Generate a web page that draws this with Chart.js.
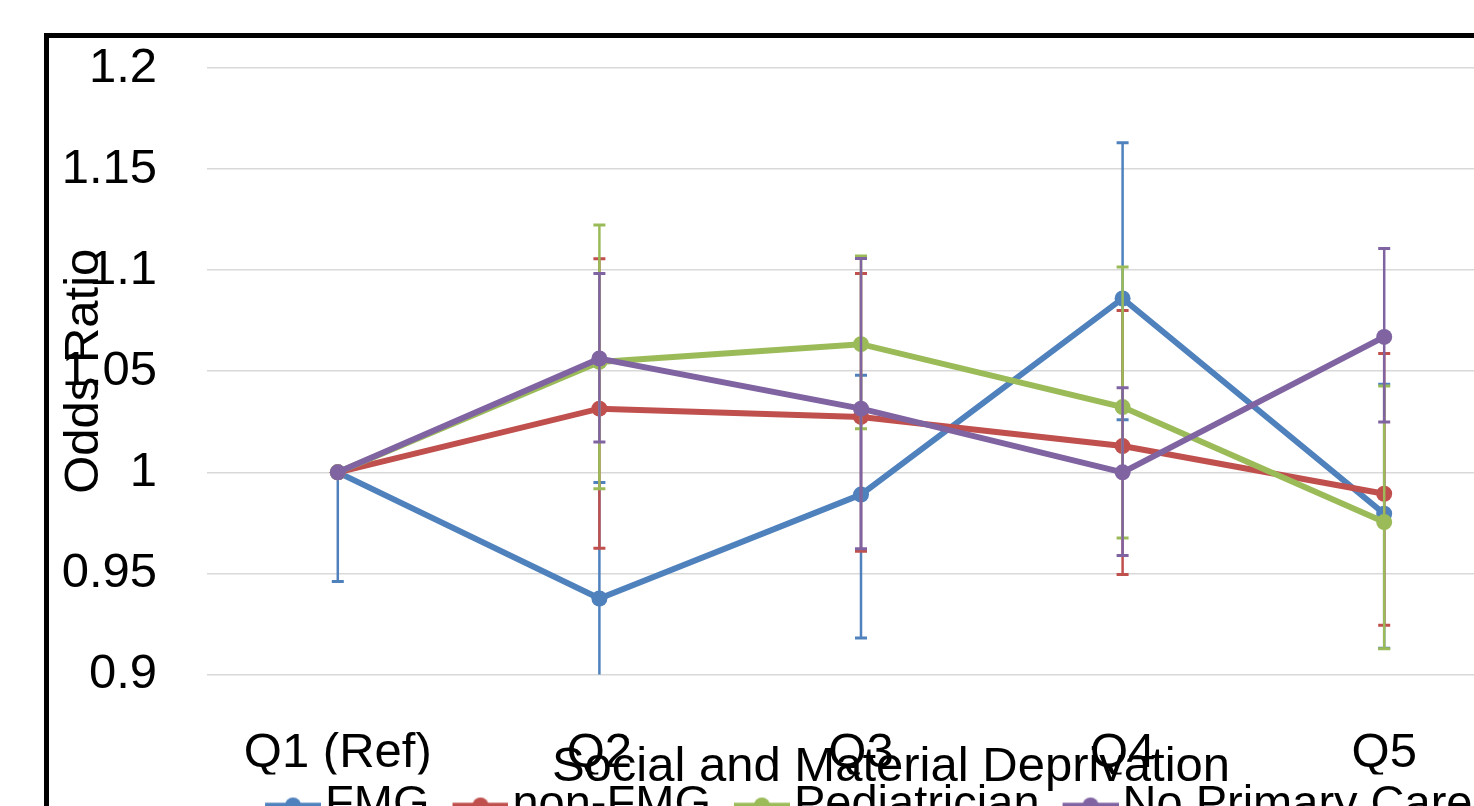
<!DOCTYPE html>
<html>
<head>
<meta charset="utf-8">
<script src="https://cdn.jsdelivr.net/npm/chart.js@4"></script>
<style>
  html, body { margin: 0; padding: 0; background: #fff; width: 1474px; height: 806px; overflow: hidden; }
  #frame { position: absolute; left: 44px; top: 33px; width: 1700px; height: 1000px; border: 5px solid #000; }
  #chart { position: absolute; left: 0; top: 0; }
</style>
</head>
<body>
<div id="frame"></div>
<canvas id="chart" width="1560" height="839"></canvas>
<script>
// categories and series
const categories = ['Q1 (Ref)', 'Q2', 'Q3', 'Q4', 'Q5'];
const seriesNames = ['FMG', 'non-FMG', 'Pediatrician', 'No Primary Care'];
const seriesColors = ['#4F81BD', '#C0504D', '#9BBB59', '#8064A2'];

const fmg      = [1.0, 0.9376, 0.989, 1.086, 0.9795];
const fmgLow   = [0.946, 0.883, 0.918, 1.026, 0.913];
const fmgHigh  = [1.0, 0.995, 1.048, 1.163, 1.0436];

const nonFmg     = [1.0, 1.0315, 1.0274, 1.013, 0.9894];
const nonFmgLow  = [1.0, 0.9625, 0.961, 0.9495, 0.9243];
const nonFmgHigh = [1.0, 1.1056, 1.0983, 1.080, 1.0588];

const pediatrician     = [1.0, 1.0546, 1.0634, 1.0323, 0.9754];
const pediatricianLow  = [1.0, 0.9919, 1.0215, 0.9675, 0.9127];
const pediatricianHigh = [1.0, 1.1223, 1.107, 1.1016, 1.0427];

const noPrimary     = [1.0, 1.0563, 1.0315, 1.0, 1.067];
const noPrimaryLow  = [1.0, 1.015, 0.9622, 0.9589, 1.0249];
const noPrimaryHigh = [1.0, 1.0983, 1.1058, 1.0419, 1.1107];

const yTicks = [0.9, 0.95, 1, 1.05, 1.1, 1.15, 1.2];
const yTitle = 'Odds Ratio';
const xTitle = 'Social and Material Deprivation';

const FONT = '"Liberation Sans", Arial, sans-serif';
const FS = 49;
const LEGEND_FS = 47;
Chart.defaults.font.family = FONT;
Chart.defaults.font.size = FS;
Chart.defaults.color = '#000';

// legend icon: short line with a dot, like the Excel legend.
// the drawn part sits on the right so it ends just before the text
function legendIcon(color) {
  const c = document.createElement('canvas');
  c.width = 91; c.height = 18;
  const g = c.getContext('2d');
  g.strokeStyle = color; g.lineWidth = 5.5;
  g.beginPath(); g.moveTo(35, 9); g.lineTo(91, 9); g.stroke();
  g.fillStyle = color;
  g.beginPath(); g.arc(63, 9, 8, 0, Math.PI * 2); g.fill();
  return c;
}
const icons = seriesColors.map(legendIcon);

const values = [fmg, nonFmg, pediatrician, noPrimary];
const lows = [fmgLow, nonFmgLow, pediatricianLow, noPrimaryLow];
const highs = [fmgHigh, nonFmgHigh, pediatricianHigh, noPrimaryHigh];

const datasets = seriesNames.map((name, i) => ({
  label: name,
  data: values[i],
  errLow: lows[i],
  errHigh: highs[i],
  borderColor: seriesColors[i],
  backgroundColor: seriesColors[i],
  pointBackgroundColor: seriesColors[i],
  pointBorderWidth: 0,
  pointRadius: 8,
  borderWidth: 6,
  tension: 0,
  order: seriesNames.length - i   // later series on top, as in Excel
}));

// vertical error bars with caps, drawn just before each series
const errorBars = {
  id: 'errorBars',
  beforeDatasetDraw(chart, args) {
    const ds = chart.data.datasets[args.index];
    const y = chart.scales.y, ctx = chart.ctx, a = chart.chartArea;
    ctx.save();
    ctx.beginPath();
    ctx.rect(a.left, a.top, a.right - a.left, a.bottom - a.top);
    ctx.clip();
    ctx.strokeStyle = ds.borderColor;
    args.meta.data.forEach((pt, j) => {
      const lo = y.getPixelForValue(ds.errLow[j]);
      const hi = y.getPixelForValue(ds.errHigh[j]);
      if (Math.abs(lo - hi) < 0.5) return;
      ctx.lineWidth = 2.5;
      ctx.beginPath(); ctx.moveTo(pt.x, lo); ctx.lineTo(pt.x, hi); ctx.stroke();
      ctx.lineWidth = 3;
      ctx.beginPath();
      ctx.moveTo(pt.x - 6, lo); ctx.lineTo(pt.x + 6, lo);
      ctx.moveTo(pt.x - 6, hi); ctx.lineTo(pt.x + 6, hi);
      ctx.stroke();
    });
    ctx.restore();
  }
};

// x title sits over the tick labels in the original, so draw it here
const xTitlePlugin = {
  id: 'xTitle',
  afterDraw(chart) {
    const ctx = chart.ctx, a = chart.chartArea;
    ctx.save();
    ctx.font = FS + 'px ' + FONT;
    ctx.fillStyle = '#000';
    ctx.textAlign = 'center';
    ctx.textBaseline = 'middle';
    ctx.fillText(xTitle, (a.left + a.right) / 2 + 30, a.bottom + 93);
    ctx.restore();
  }
};

new Chart(document.getElementById('chart'), {
  type: 'line',
  data: { labels: categories, datasets: datasets },
  plugins: [errorBars, xTitlePlugin],
  options: {
    responsive: false,
    animation: false,
    devicePixelRatio: 1,
    layout: { padding: { left: 0, top: 68, right: 45, bottom: 0 } },
    plugins: {
      tooltip: { enabled: false },
      legend: {
        position: 'bottom',
        fullSize: false,
        labels: {
          usePointStyle: true,
          pointStyleWidth: 52,
          padding: 7.5,
          font: { size: LEGEND_FS },
          sort: (a, b) => a.datasetIndex - b.datasetIndex,
          generateLabels(chart) {
            const items = Chart.defaults.plugins.legend.labels.generateLabels(chart);
            items.forEach(it => { it.pointStyle = icons[it.datasetIndex]; });
            return items;
          }
        }
      }
    },
    scales: {
      x: {
        type: 'category',
        offset: true,
        grid: { display: false },
        border: { display: false },
        ticks: { padding: 42, maxRotation: 0, autoSkip: false, font: { size: FS } },
        afterFit(s) { s.height = 100; }
      },
      y: {
        min: 0.9,
        max: 1.2,
        afterBuildTicks(s) { s.ticks = yTicks.map(v => ({ value: v })); },
        grid: { color: '#D9D9D9', lineWidth: 1.5, drawTicks: false },
        border: { display: false },
        ticks: { padding: 50, font: { size: FS }, callback: v => String(+v.toFixed(2)) },
        title: { display: true, text: yTitle, font: { size: FS }, padding: { top: 55, bottom: 0 } },
        afterFit(s) { s.width = 207; s.paddingTop = 0; s.paddingBottom = 0; }
      }
    }
  }
});
</script>
</body>
</html>
